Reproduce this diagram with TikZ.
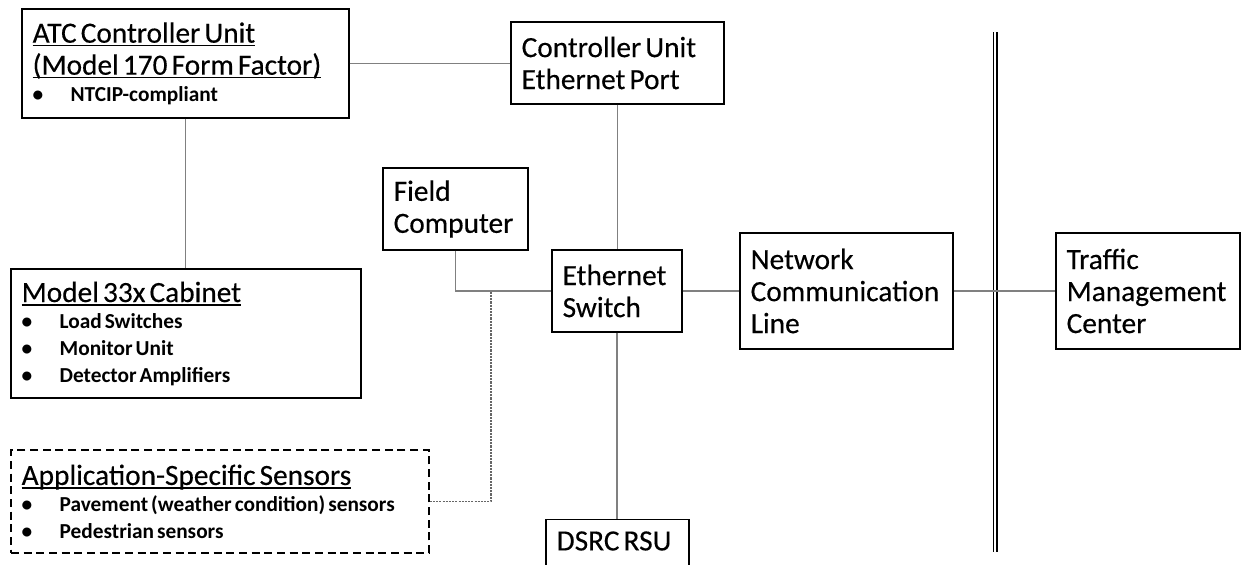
\documentclass[tikz,border=0pt]{standalone}
\usepackage{fontspec}
\setmainfont{Carlito}
\newfontfamily\tfam{Carlito}[FakeBold=0.3]
\setlength\parskip{0pt}
\newcommand\tf{\tfam\fontsize{22pt}{24pt}\selectfont\spaceskip=0.14em plus 0.1em minus 0.03em\relax}
\newcommand\bulf{\fontsize{16pt}{20pt}\selectfont\bfseries\spaceskip=0.14em plus 0.1em minus 0.03em\relax}
\newcommand\ulx[1]{\leavevmode\setbox0\hbox{#1}\rlap{\rule[-2.8pt]{\wd0}{1.1pt}}\box0}
\newcommand\bul[1]{\par\leavevmode\makebox[28.5pt][l]{\textbullet}#1}
\begin{document}
\begin{tikzpicture}[x=0.75pt,y=-0.75pt,
  box/.style={draw, line width=1.1pt, inner xsep=8pt, inner ysep=0pt, align=left},
  dashbox/.style={box, dash pattern=on 6pt off 3.5pt},
  conn/.style={draw=black!50, line width=0.8pt},
  dotconn/.style={draw=black!60, line width=0.9pt, dash pattern=on 1.6pt off 0.8pt},
  sep/.style={draw=black, line width=1.2pt}]
\clip (0,0) rectangle (1241,564);
\fill[white] (0,0) rectangle (1241,564);

\node[box, minimum width=245.25pt, minimum height=81.75pt, text width=229.25pt] (atc) at (185.5,63.5)
  {\raggedright{\tf\ulx{ATC Controller Unit}\\\ulx{(Model 170 Form Factor)}\par}{\bulf\bul{NTCIP-compliant}\par}};
\node[box, minimum width=159.75pt, minimum height=61.5pt, text width=143.75pt] (cuep) at (617.5,63)
  {\raggedright\tf Controller Unit\\Ethernet Port\par};
\node[box, minimum width=108.75pt, minimum height=61.5pt, text width=92.75pt] (fc) at (455.5,209)
  {\raggedright\tf Field\\Computer\par};
\node[box, minimum width=97.5pt, minimum height=61.5pt, text width=81.5pt] (es) at (617,291)
  {\raggedright\tf Ethernet\\Switch\par};
\node[box, minimum width=262.5pt, minimum height=96.75pt, text width=246.5pt] (cab) at (186,333.5)
  {\raggedright{\tf\ulx{Model 33x Cabinet}\par}{\bulf\bul{Load Switches}\bul{Monitor Unit}\bul{Detector Amplifiers}\par}};
\node[dashbox, minimum width=313.5pt, minimum height=77.25pt, text width=297.5pt] (sens) at (220,501.5)
  {\raggedright{\tf\ulx{Application-Specific Sensors}\par}{\bulf\bul{Pavement (weather condition) sensors}\bul{Pedestrian sensors}\par}};
\node[box, minimum width=159.75pt, minimum height=87pt, text width=143.75pt] (ncl) at (846.5,291)
  {\raggedright\tf Network\\Communication\\Line\par};
\node[box, minimum width=138pt, minimum height=87pt, text width=122pt] (tmc) at (1148,291)
  {\raggedright\tf Traffic\\Management\\Center\par};
\node[box, text width=91.25pt, inner ysep=8pt, text height=15pt, text depth=50pt, anchor=north] (dsrc) at (617.5,519)
  {\raggedright\tf DSRC RSU\par};

% separator
\draw[sep] (993.5,32) -- (993.5,552);
\draw[sep] (997,32) -- (997,552);

% connectors
\draw[conn] (atc.east) -- (atc.east -| cuep.west);
\draw[conn] (atc.south) -- (atc.south |- cab.north);
\draw[conn] (cuep.south) -- (cuep.south |- es.north);
\draw[conn] (fc.south) |- (es.west);
\draw[conn] (es.east) -- (ncl.west);
\draw[conn] (ncl.east) -- (tmc.west);
\draw[conn] (es.south) -- (es.south |- dsrc.north);
\coordinate (tap) at (491,291);
\draw[dotconn] (sens.east) -| (tap);
\end{tikzpicture}
\end{document}
